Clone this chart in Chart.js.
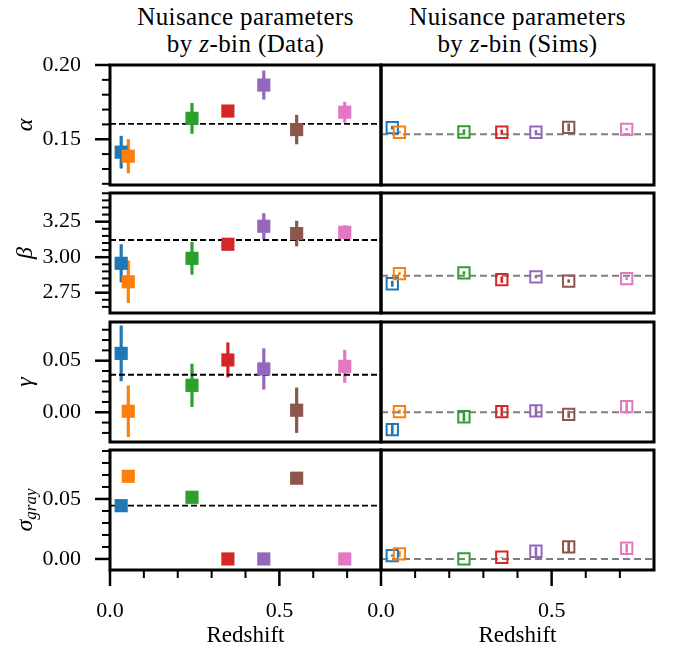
<!DOCTYPE html>
<html><head><meta charset="utf-8">
<script src="https://cdn.jsdelivr.net/npm/chart.js@4.4.1/dist/chart.umd.min.js"></script>
<style>
html,body{margin:0;padding:0;background:#fff;}
#wrap{position:relative;width:673px;height:648px;overflow:hidden;background:#fff;}
canvas{position:absolute;left:0;top:0;}
.ttl{position:absolute;top:3px;font-family:'Liberation Serif',serif;font-size:25px;line-height:27px;text-align:center;color:#000;white-space:nowrap;letter-spacing:0.4px;}
</style></head><body>
<div id="wrap">
 <div class="ttl" style="left:110px;width:271px">Nuisance parameters<br>by <i>z</i>-bin (Data)</div>
 <div class="ttl" style="left:381px;width:273px">Nuisance parameters<br>by <i>z</i>-bin (Sims)</div>
</div>
<script>
// ---------- data ----------
const colors = ['#1f77b4','#ff7f0e','#2ca02c','#d62728','#9467bd','#8c564b','#e377c2'];
const zData = [0.033, 0.054, 0.242, 0.348, 0.454, 0.551, 0.693];
const zSims = [0.033, 0.054, 0.243, 0.354, 0.454, 0.550, 0.720];

const alphaData    = [0.1413, 0.1386, 0.1641, 0.1690, 0.1865, 0.1565, 0.1682];
const alphaDataErr = [0.0110, 0.0115, 0.0104, 0.0030, 0.0098, 0.0099, 0.0070];
const alphaSims    = [0.1578, 0.1547, 0.1549, 0.1547, 0.1547, 0.1580, 0.1567];
const alphaSimsErr = [0.0012, 0.0008, 0.0018, 0.0018, 0.0015, 0.0026, 0.0008];
const alphaMeanData = 0.1603, alphaMeanSims = 0.1534;

const betaData    = [2.957, 2.827, 2.992, 3.091, 3.218, 3.166, 3.175];
const betaDataErr = [0.134, 0.150, 0.115, 0.020, 0.092, 0.090, 0.050];
const betaSims    = [2.813, 2.884, 2.889, 2.842, 2.861, 2.832, 2.849];
const betaSimsErr = [0.021, 0.010, 0.012, 0.023, 0.010, 0.012, 0.010];
const betaMeanData = 3.121, betaMeanSims = 2.870;

const gammaData    = [0.0571, 0.0010, 0.0261, 0.0507, 0.0420, 0.0020, 0.0445];
const gammaDataErr = [0.0270, 0.0250, 0.0210, 0.0170, 0.0200, 0.0220, 0.0160];
const gammaSims    = [-0.0168, 0.0006, -0.0043, 0.0006, 0.0013, -0.0020, 0.0054];
const gammaSimsErr = [0.0050, 0.0020, 0.0045, 0.0045, 0.0057, 0.0035, 0.0045];
const gammaMeanData = 0.0364, gammaMeanSims = 0.0;

const sigData    = [0.0444, 0.0689, 0.0514, 0.0, 0.0, 0.0673, 0.0];
const sigDataErr = [0, 0, 0, 0, 0, 0, 0];
const sigSims    = [0.0028, 0.0042, 0.0, 0.0014, 0.0064, 0.0100, 0.0089];
const sigSimsErr = [0.0008, 0.0024, 0.0, 0.0003, 0.0039, 0.0046, 0.0037];
const sigMeanData = 0.0444, sigMeanSims = 0.0;

const xTicks = [0.0, 0.5];
const xMinor = [0.1, 0.2, 0.3, 0.4, 0.6, 0.7];
const alphaTicks = [0.15, 0.20];
const alphaMinor = [0.12, 0.13, 0.14, 0.16, 0.17, 0.18, 0.19];
const betaTicks = [2.75, 3.00, 3.25];
const betaMinor = [2.65, 2.70, 2.80, 2.85, 2.90, 2.95, 3.05, 3.10, 3.15, 3.20, 3.30, 3.35, 3.40, 3.45];
const gammaTicks = [0.00, 0.05];
const gammaMinor = [-0.02, -0.01, 0.01, 0.02, 0.03, 0.04, 0.06, 0.07, 0.08];
const sigTicks = [0.00, 0.05];
const sigMinor = [0.01, 0.02, 0.03, 0.04, 0.06, 0.07, 0.08, 0.09];

// ---------- layout ----------
const W = 673, H = 648;
const colLeft = [110, 381], colRight = [381, 654];
const rowTop = [65, 193, 322, 450], rowBottom = [185, 313, 442, 570];
const rows = [
  {label:'α', sub:null, ymin:0.1192, ymax:0.2000, ticks:alphaTicks, minor:alphaMinor,
   data:[alphaData, alphaDataErr, alphaMeanData], sims:[alphaSims, alphaSimsErr, alphaMeanSims]},
  {label:'β', sub:null, ymin:2.607, ymax:3.452, ticks:betaTicks, minor:betaMinor,
   data:[betaData, betaDataErr, betaMeanData], sims:[betaSims, betaSimsErr, betaMeanSims]},
  {label:'γ', sub:null, ymin:-0.0288, ymax:0.0875, ticks:gammaTicks, minor:gammaMinor,
   data:[gammaData, gammaDataErr, gammaMeanData], sims:[gammaSims, gammaSimsErr, gammaMeanSims]},
  {label:'σ', sub:'gray', ymin:-0.0092, ymax:0.0908, ticks:sigTicks, minor:sigMinor,
   data:[sigData, sigDataErr, sigMeanData], sims:[sigSims, sigSimsErr, sigMeanSims]}
];

const FONT = '"Liberation Serif", "Times New Roman", serif';

const panelPlugin = {
  id: 'panel',
  beforeDatasetsDraw(chart, args, o) {
    const ctx = chart.ctx, xs = chart.scales.x, ys = chart.scales.y, a = chart.chartArea;
    ctx.save();
    ctx.beginPath(); ctx.rect(a.left, a.top, a.right - a.left, a.bottom - a.top); ctx.clip();
    o.z.forEach((z, i) => {
      const e = o.err[i]; if (!e) return;
      const x = xs.getPixelForValue(z);
      ctx.strokeStyle = o.colors[i]; ctx.lineWidth = o.ebw; ctx.lineCap = 'butt';
      ctx.beginPath();
      ctx.moveTo(x, ys.getPixelForValue(o.val[i] - e));
      ctx.lineTo(x, ys.getPixelForValue(o.val[i] + e));
      ctx.stroke();
    });
    ctx.restore();
  },
  afterDraw(chart, args, o) {
    const ctx = chart.ctx, xs = chart.scales.x, ys = chart.scales.y, a = chart.chartArea;
    ctx.save();
    ctx.strokeStyle = '#000'; ctx.lineCap = 'butt';
    if (o.yTicks) {
      const draw = (vals, len, lw) => {
        ctx.lineWidth = lw;
        vals.forEach(v => {
          const p = ys.getPixelForValue(v);
          if (p < a.top - 1 || p > a.bottom + 1) return;
          ctx.beginPath(); ctx.moveTo(a.left - len, p); ctx.lineTo(a.left, p); ctx.stroke();
        });
      };
      draw(o.yTicks, 15, 2.5); draw(o.yMinor, 8, 2);
    }
    if (o.xTicks) {
      const draw = (vals, len, lw) => {
        ctx.lineWidth = lw;
        vals.forEach(v => {
          const p = xs.getPixelForValue(v);
          ctx.beginPath(); ctx.moveTo(p, a.bottom); ctx.lineTo(p, a.bottom + len); ctx.stroke();
        });
      };
      draw(o.xTicks, 16, 2.5); draw(o.xMinor, 8, 2);
    }
    ctx.lineWidth = 3;
    ctx.strokeRect(a.left, a.top, a.right - a.left, a.bottom - a.top);
    ctx.fillStyle = '#000';
    if (o.ylabel) {
      ctx.save();
      ctx.translate(26, (a.top + a.bottom) / 2);
      ctx.rotate(-Math.PI / 2);
      ctx.textBaseline = 'middle';
      ctx.textAlign = 'left';
      ctx.font = 'italic 24px ' + FONT;
      const w1 = ctx.measureText(o.ylabel).width;
      let w2 = 0;
      if (o.ysub) { ctx.font = 'italic 17px ' + FONT; w2 = ctx.measureText(o.ysub).width; }
      const x0 = -(w1 + w2) / 2;
      ctx.font = 'italic 24px ' + FONT;
      ctx.fillText(o.ylabel, x0, 0);
      if (o.ysub) { ctx.font = 'italic 17px ' + FONT; ctx.fillText(o.ysub, x0 + w1, 6); }
      ctx.restore();
    }
    if (o.xlabel) {
      ctx.font = '23px ' + FONT;
      ctx.textAlign = 'center'; ctx.textBaseline = 'alphabetic';
      ctx.fillText(o.xlabel, (a.left + a.right) / 2, 642);
    }
    ctx.restore();
  }
};

const wrap = document.getElementById('wrap');

function makePanel(r, c) {
  const row = rows[r];
  const sims = c === 1;
  const [val, err, mean] = sims ? row.sims : row.data;
  const z = sims ? zSims : zData;
  const L = sims ? colRight[0] : colLeft[0];
  const R = sims ? colRight[1] : colLeft[1];
  const T = rowTop[r], B = rowBottom[r];
  const showX = r === rows.length - 1;
  const showY = !sims;
  const cv = document.createElement('canvas');
  cv.width = W; cv.height = H;
  cv.style.width = W + 'px'; cv.style.height = H + 'px';
  wrap.appendChild(cv);
  new Chart(cv, {
    type: 'scatter',
    data: { datasets: [
      { data: z.map((x, i) => ({ x: x, y: val[i] })),
        pointStyle: 'rect',
        pointRadius: sims ? 8.0 : 9.3,
        pointHoverRadius: sims ? 8.0 : 9.3,
        pointBackgroundColor: sims ? 'rgba(0,0,0,0)' : colors,
        pointBorderColor: colors,
        pointBorderWidth: sims ? 2 : 0,
        showLine: false },
      { type: 'line',
        data: [{ x: 0, y: mean }, { x: 0.8, y: mean }],
        borderColor: sims ? '#7f7f7f' : '#000',
        borderDash: sims ? [7, 4] : [6, 3],
        borderWidth: sims ? 2 : 1.8,
        pointRadius: 0, fill: false, tension: 0 }
    ]},
    options: {
      responsive: false, animation: false, devicePixelRatio: 1, events: [],
      layout: { padding: { left: showY ? 0 : L, right: W - R, top: T, bottom: showX ? 0 : H - B } },
      plugins: {
        legend: { display: false }, tooltip: { enabled: false }, title: { display: false },
        panel: {
          z: z, val: val, err: err, colors: colors, ebw: sims ? 2.6 : 3.2,
          yTicks: showY ? row.ticks : null, yMinor: row.minor,
          xTicks: showX ? xTicks : null, xMinor: xMinor,
          ylabel: showY ? row.label : null, ysub: row.sub,
          xlabel: showX ? 'Redshift' : null
        }
      },
      scales: {
        x: { type: 'linear', min: 0, max: 0.8, display: showX,
             grid: { display: false, drawTicks: false }, border: { display: false },
             ticks: { color: '#000', font: { family: FONT, size: 22 }, padding: 28, maxRotation: 0,
                      autoSkip: false, callback: v => Number(v).toFixed(1) },
             afterBuildTicks: s => { s.ticks = xTicks.map(v => ({ value: v })); },
             afterFit: s => { s.height = showX ? H - B : 0; } },
        y: { type: 'linear', min: row.ymin, max: row.ymax, display: showY,
             grid: { display: false, drawTicks: false }, border: { display: false },
             ticks: { color: '#000', font: { family: FONT, size: 22 }, padding: 29,
                      autoSkip: false, callback: v => Number(v).toFixed(2) },
             afterBuildTicks: s => { s.ticks = row.ticks.map(v => ({ value: v })); },
             afterFit: s => { s.width = showY ? L : 0; } }
      }
    },
    plugins: [panelPlugin]
  });
}

for (let r = 0; r < rows.length; r++) { makePanel(r, 0); makePanel(r, 1); }
</script>
</body></html>
